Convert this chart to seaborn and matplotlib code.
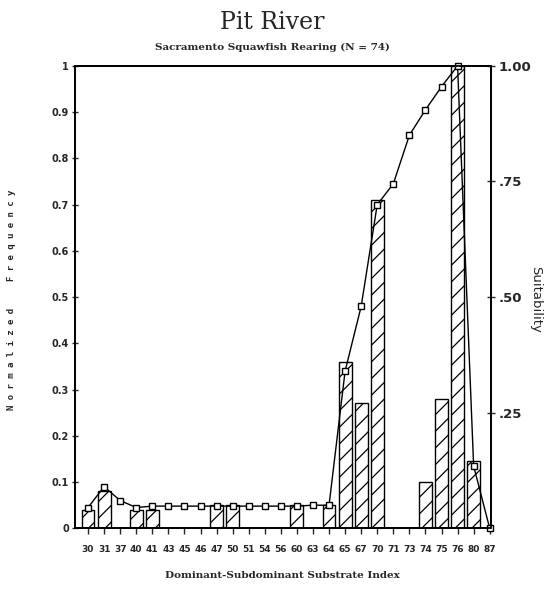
import numpy as np
import pandas as pd
import matplotlib
matplotlib.use("Agg")
import matplotlib.pyplot as plt
import seaborn as sns

sns.set_theme(style="ticks")
plt.rcParams["font.family"] = ["DejaVu Sans"]
plt.rcParams["hatch.linewidth"] = 0.9
plt.rcParams["hatch.color"] = "black"

# substrate index categories
categories = ["30", "31", "37", "40", "41", "43", "45", "46", "47", "50", "51", "54", "56",
              "60", "63", "64", "65", "67", "70", "71", "73", "74", "75", "76", "80", "87"]
# normalized frequency (bars, left axis)
frequency = [0.04, 0.08, 0.0, 0.04, 0.04, 0.0, 0.0, 0.0, 0.05, 0.05, 0.0, 0.0, 0.0,
             0.05, 0.0, 0.05, 0.36, 0.27, 0.71, 0.0, 0.0, 0.10, 0.28, 1.0, 0.145, 0.0]
# suitability curve (right axis)
suitability = [0.045, 0.09, 0.06, 0.045, 0.048, 0.048, 0.048, 0.048, 0.048, 0.048, 0.048, 0.048, 0.048,
               0.048, 0.05, 0.05, 0.34, 0.48, 0.70, 0.745, 0.85, 0.905, 0.955, 1.0, 0.135, 0.0]

left_ticks = [0, 0.1, 0.2, 0.3, 0.4, 0.5, 0.6, 0.7, 0.8, 0.9, 1.0]
left_labels = ["0", "0.1", "0.2", "0.3", "0.4", "0.5", "0.6", "0.7", "0.8", "0.9", "1"]
right_ticks = [0.25, 0.5, 0.75, 1.0]
right_labels = [".25", ".50", ".75", "1.00"]

df = pd.DataFrame({"Index": categories, "Frequency": frequency, "Suitability": suitability})

fig = plt.figure(figsize=(5.45, 5.99), dpi=100)
ax = fig.add_axes([0.138, 0.118, 0.762, 0.772])

sns.barplot(data=df, x="Index", y="Frequency", order=categories, ax=ax,
            color="white", edgecolor="black", linewidth=1.0, width=0.8,
            errorbar=None, saturation=1)
for p in ax.patches:
    if p.get_height() > 0:
        p.set_hatch("//")
    else:
        p.set_visible(False)

ax2 = ax.twinx()
sns.pointplot(data=df, x="Index", y="Suitability", order=categories, ax=ax2,
              color="black", markers="s", linestyles="-", errorbar=None,
              markersize=4.5, markerfacecolor="white", markeredgewidth=1.0, linewidth=1.0)
for ln in ax2.lines:
    ln.set_clip_on(False)

for a in (ax, ax2):
    a.set_xlim(-0.8, 25.05)
    a.set_ylim(0, 1.0)

ax.set_yticks(left_ticks)
ax.set_yticklabels(left_labels, fontsize=7, fontweight="bold")
ax.set_xticks(range(len(categories)))
ax.set_xticklabels(categories, fontsize=6.5, fontweight="bold")
ax.tick_params(axis="x", direction="out", length=4, width=1, pad=8)
ax.tick_params(axis="y", direction="inout", length=5, width=1, pad=2)

ax2.set_yticks(right_ticks)
ax2.set_yticklabels(right_labels, fontsize=9.5, fontweight="bold")
ax2.tick_params(axis="y", direction="inout", length=6, width=1, pad=3)

for a in (ax, ax2):
    for s in a.spines.values():
        s.set_visible(True)
        s.set_linewidth(1.3)
        s.set_color("black")

ax.set_xlabel("Dominant-Subdominant Substrate Index", fontsize=7.5, fontweight="bold",
              family="DejaVu Serif", labelpad=12)
ax.set_ylabel("")
ax2.set_xlabel("")
ax2.set_ylabel("")

fig.text(0.982, 0.5, "Suitability", rotation=-90, ha="center", va="center", fontsize=9.5)
fig.text(0.022, 0.5, "N o r m a l i z e d     F r e q u e n c y", rotation=90,
         ha="center", va="center", fontsize=6.5, fontweight="bold", family="DejaVu Sans Mono")

fig.text(0.5, 0.962, "Pit River", ha="center", va="center", fontsize=17, family="DejaVu Serif")
fig.text(0.5, 0.921, "Sacramento Squawfish Rearing (N = 74)", ha="center", va="center",
         fontsize=7.5, fontweight="bold", family="DejaVu Serif")

fig.savefig("out.png", dpi=100)
